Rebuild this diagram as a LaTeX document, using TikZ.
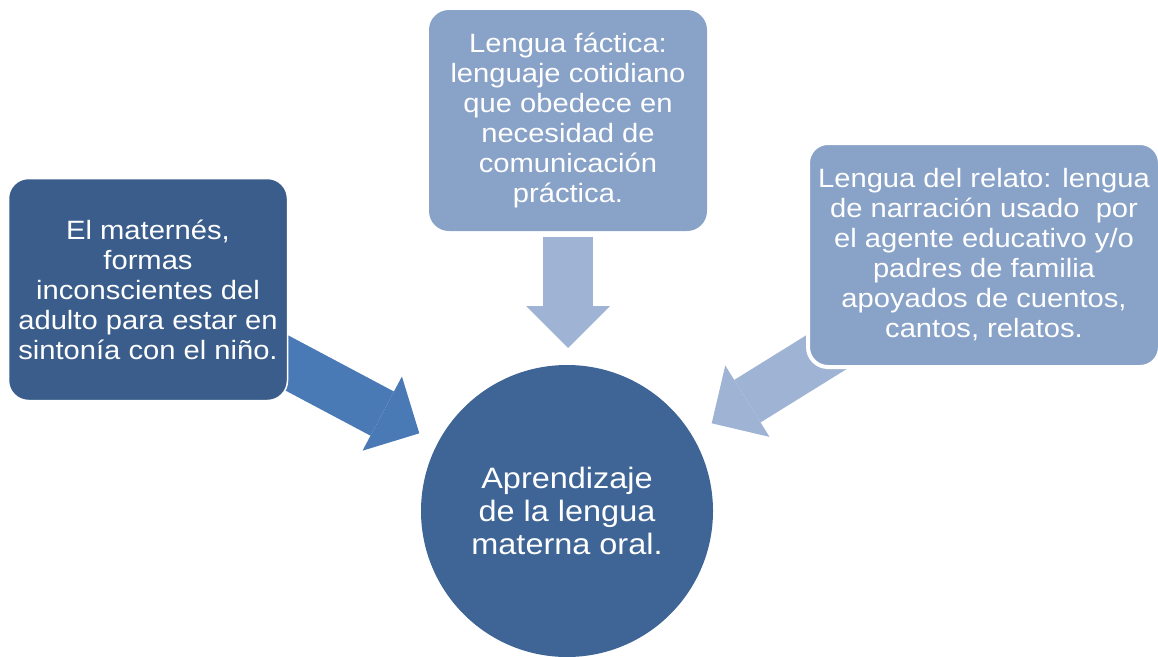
\documentclass[tikz,border=0pt]{standalone}
\usepackage{fontspec}
\setmainfont{Liberation Sans}[FakeStretch=1.1]
\usetikzlibrary{arrows.meta}
\definecolor{darkbox}{HTML}{3A5D8B}
\definecolor{circfill}{HTML}{3E6596}
\definecolor{leftarrow}{HTML}{4A7AB5}
\definecolor{lightbox}{HTML}{89A2C8}
\definecolor{lightarrow}{HTML}{9FB3D4}
\pgfdeclarelayer{bg}
\pgfsetlayers{bg,main}
\tikzset{
  box/.style={rectangle, rounded corners=20pt, text=white, align=center,
    inner sep=0pt, font=\fontsize{26.5}{30}\selectfont},
  blockarrow/.style={line width=50pt, line cap=butt,
    -{Triangle[width=84pt,length=42pt,line width=0pt]}},
}
\begin{document}
\begin{tikzpicture}[x=1pt,y=-1pt]
\useasboundingbox (0,0) rectangle (1158,656);
% boxes
\node[box, fill=darkbox, draw=white, line width=1.5pt,
  minimum width=279pt, minimum height=222pt] (matern) at (148,289.5)
  {El maternés,\\formas\\inconscientes del\\adulto para estar en\\sintonía con el niño.};
\node[box, fill=lightbox, minimum width=278pt, minimum height=221pt] (factica) at (568,120.5)
  {Lengua fáctica:\\lenguaje cotidiano\\que obedece en\\necesidad de\\comunicación\\práctica.};
\node[box, fill=lightbox, draw=white, line width=4pt,
  minimum width=352pt, minimum height=224pt] (relato) at (984,255)
  {Lengua del relato: lengua\\de narración usado\ \ por\\el agente educativo y/o\\padres de familia\\apoyados de cuentos,\\cantos, relatos.};
\node[circle, fill=circfill, text=white, align=center, inner sep=0pt,
  minimum size=292pt, font=\fontsize{29.5}{33}\selectfont] (apr) at (567,511)
  {Aprendizaje\\de la lengua\\materna oral.};
% arrow end points
\coordinate (lstart) at (260.4,348.9);
\coordinate (ltip) at (419.3,433.3);
\coordinate (tstart) at (568,237);
\coordinate (ttip) at (568,348);
\coordinate (rstart) at (881.7,317.9);
\coordinate (rtip) at (711.7,423.3);
\begin{pgfonlayer}{bg}
  \draw[blockarrow, draw=leftarrow, fill=leftarrow] (lstart) -- (ltip);
  \draw[blockarrow, draw=lightarrow, fill=lightarrow] (tstart) -- (ttip);
  \draw[blockarrow, draw=lightarrow, fill=lightarrow] (rstart) -- (rtip);
\end{pgfonlayer}
\end{tikzpicture}
\end{document}
